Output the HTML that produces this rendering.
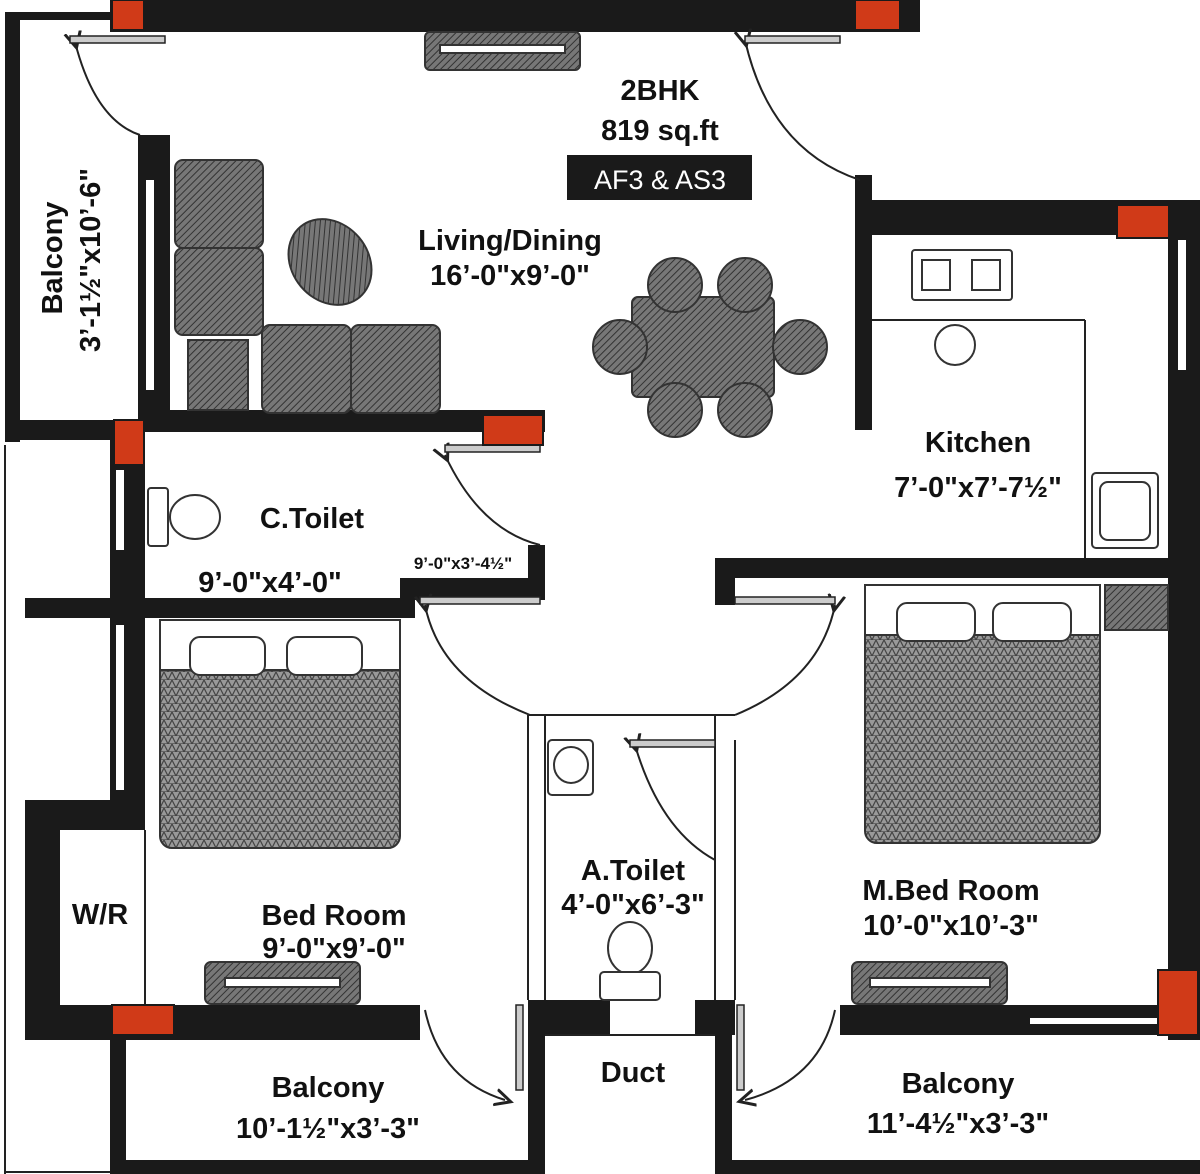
<!DOCTYPE html>
<html><head><style>
html,body{margin:0;padding:0;background:#fff;}
svg{display:block;}
text{font-family:"Liberation Sans",sans-serif;font-weight:bold;fill:#111;}
</style></head><body>
<svg width="1200" height="1174" viewBox="0 0 1200 1174" xmlns="http://www.w3.org/2000/svg">
<defs>
<pattern id="hatch" width="5" height="5" patternUnits="userSpaceOnUse" patternTransform="rotate(45)">
<rect width="5" height="5" fill="#777"/><line x1="0" y1="0" x2="0" y2="5" stroke="#333" stroke-width="2"/></pattern>
<pattern id="mesh" width="8" height="8" patternUnits="userSpaceOnUse">
<rect width="8" height="8" fill="#999"/><path d="M0 8L4 0L8 8Z" fill="none" stroke="#444" stroke-width="1.2"/></pattern>
<marker id="ar" markerWidth="10" markerHeight="10" refX="5" refY="5" orient="auto"><path d="M0 1L8 5L0 9" fill="none" stroke="#222" stroke-width="1.5"/></marker>
</defs>
<g fill="#1a1a1a">
<rect x="110" y="0" width="810" height="32"/>
<rect x="5" y="12" width="120" height="8"/>
<rect x="5" y="12" width="15" height="430"/>
<rect x="5" y="420" width="140" height="20"/>
<rect x="138" y="135" width="32" height="290"/>
<rect x="140" y="410" width="405" height="22"/>
<rect x="110" y="420" width="35" height="410"/>
<rect x="25" y="598" width="390" height="20"/>
<rect x="400" y="578" width="145" height="22"/>
<rect x="528" y="545" width="17" height="55"/>
<rect x="715" y="558" width="20" height="47"/>
<rect x="715" y="558" width="460" height="20"/>
<rect x="855" y="175" width="17" height="255"/>
<rect x="855" y="200" width="345" height="35"/>
<rect x="1168" y="200" width="32" height="840"/>
<rect x="25" y="800" width="35" height="240"/>
<rect x="25" y="800" width="120" height="30"/>
<rect x="25" y="1005" width="395" height="35"/>
<rect x="840" y="1005" width="330" height="30"/>
<rect x="528" y="1000" width="82" height="35"/>
<rect x="695" y="1000" width="40" height="35"/>
<rect x="528" y="1000" width="17" height="174"/>
<rect x="715" y="1000" width="17" height="174"/>
<rect x="110" y="1035" width="16" height="139"/>
<rect x="110" y="1160" width="420" height="14"/>
<rect x="730" y="1160" width="470" height="14"/>
</g>
<g fill="#fff">
<rect x="146" y="180" width="8" height="210"/><rect x="116" y="470" width="8" height="80"/><rect x="116" y="625" width="8" height="165"/>
<rect x="1178" y="240" width="8" height="130"/><rect x="1030" y="1018" width="130" height="6"/><rect x="612" y="1012" width="80" height="5"/><rect x="612" y="1022" width="80" height="5"/>
</g>
<g fill="none" stroke="#222" stroke-width="2">
<line x1="528" y1="715" x2="528" y2="1000"/><line x1="545" y1="715" x2="545" y2="1000"/>
<line x1="715" y1="715" x2="715" y2="1000"/><line x1="735" y1="740" x2="735" y2="1000"/>
<line x1="528" y1="715" x2="735" y2="715"/>
<line x1="545" y1="1035" x2="715" y2="1035"/>
<line x1="872" y1="320" x2="1085" y2="320"/><line x1="1085" y1="320" x2="1085" y2="558"/>
<line x1="145" y1="830" x2="145" y2="1005"/>
<line x1="5" y1="445" x2="5" y2="1174"/><line x1="5" y1="1172" x2="110" y2="1172"/>
<path d="M75 42 Q95 120 140 135" marker-start="url(#ar)"/>
<path d="M745 40 Q770 150 860 180" marker-start="url(#ar)"/>
<path d="M445 455 Q480 530 540 545" marker-start="url(#ar)"/>
<path d="M425 605 Q440 680 530 715" marker-start="url(#ar)"/>
<path d="M835 605 Q820 680 735 715" marker-start="url(#ar)"/>
<path d="M635 745 Q660 830 715 860" marker-start="url(#ar)"/>
<path d="M425 1010 Q440 1080 505 1100" marker-end="url(#ar)"/>
<path d="M835 1010 Q820 1080 745 1100" marker-end="url(#ar)"/>
</g>
<g fill="#ccc" stroke="#222" stroke-width="1.5">
<rect x="70" y="36" width="95" height="7"/><rect x="745" y="36" width="95" height="7"/>
<rect x="445" y="445" width="95" height="7"/><rect x="420" y="597" width="120" height="7"/>
<rect x="735" y="597" width="100" height="7"/><rect x="630" y="740" width="85" height="7"/>
<rect x="516" y="1005" width="7" height="85"/><rect x="737" y="1005" width="7" height="85"/>
</g>
<g fill="#d03a18" stroke="#1a1a1a" stroke-width="2">
<rect x="112" y="0" width="32" height="30"/><rect x="855" y="0" width="45" height="30"/>
<rect x="1117" y="205" width="52" height="33"/><rect x="114" y="420" width="30" height="45"/>
<rect x="483" y="415" width="60" height="30"/><rect x="112" y="1005" width="62" height="30"/>
<rect x="1158" y="970" width="40" height="65"/>
</g>
<g stroke="#333" stroke-width="2">
<rect x="425" y="32" width="155" height="38" rx="5" fill="url(#hatch)"/>
<rect x="440" y="45" width="125" height="8" fill="#fff"/>
<rect x="175" y="160" width="88" height="88" rx="8" fill="url(#hatch)"/>
<rect x="175" y="248" width="88" height="87" rx="8" fill="url(#hatch)"/>
<rect x="188" y="340" width="60" height="70" fill="url(#hatch)"/>
<rect x="262" y="325" width="89" height="88" rx="8" fill="url(#hatch)"/>
<rect x="351" y="325" width="89" height="88" rx="8" fill="url(#hatch)"/>
<ellipse cx="330" cy="262" rx="38" ry="46" transform="rotate(-40 330 262)" fill="url(#hatch)"/>
<rect x="632" y="297" width="142" height="100" rx="6" fill="url(#hatch)"/>
<circle cx="675" cy="285" r="27" fill="url(#hatch)"/><circle cx="745" cy="285" r="27" fill="url(#hatch)"/>
<circle cx="675" cy="410" r="27" fill="url(#hatch)"/><circle cx="745" cy="410" r="27" fill="url(#hatch)"/>
<circle cx="620" cy="347" r="27" fill="url(#hatch)"/><circle cx="800" cy="347" r="27" fill="url(#hatch)"/>
<rect x="160" y="620" width="240" height="228" rx="12" fill="url(#mesh)"/>
<rect x="160" y="620" width="240" height="50" fill="#fff"/>
<rect x="190" y="637" width="75" height="38" rx="10" fill="#fff"/><rect x="287" y="637" width="75" height="38" rx="10" fill="#fff"/>
<rect x="865" y="585" width="235" height="258" rx="12" fill="url(#mesh)"/>
<rect x="865" y="585" width="235" height="50" fill="#fff"/>
<rect x="897" y="603" width="78" height="38" rx="10" fill="#fff"/><rect x="993" y="603" width="78" height="38" rx="10" fill="#fff"/>
<rect x="1105" y="585" width="63" height="45" fill="url(#hatch)"/>
<rect x="205" y="962" width="155" height="42" rx="6" fill="url(#hatch)"/><rect x="225" y="978" width="115" height="9" fill="#fff"/>
<rect x="852" y="962" width="155" height="42" rx="6" fill="url(#hatch)"/><rect x="870" y="978" width="120" height="9" fill="#fff"/>
</g>
<g fill="#fff" stroke="#333" stroke-width="2">
<rect x="912" y="250" width="100" height="50" rx="3"/><rect x="922" y="260" width="28" height="30"/><rect x="972" y="260" width="28" height="30"/>
<circle cx="955" cy="345" r="20"/>
<rect x="1092" y="473" width="66" height="75" rx="4"/><rect x="1100" y="482" width="50" height="58" rx="8"/>
<rect x="148" y="488" width="20" height="58" rx="3"/><ellipse cx="195" cy="517" rx="25" ry="22"/>
<rect x="548" y="740" width="45" height="55" rx="4"/><ellipse cx="571" cy="765" rx="17" ry="18"/>
<ellipse cx="630" cy="948" rx="22" ry="26"/><rect x="600" y="972" width="60" height="28" rx="4"/>
</g>
<text x="660" y="100" font-size="29" text-anchor="middle">2BHK</text>
<text x="660" y="140" font-size="29" text-anchor="middle">819 sq.ft</text>
<rect x="567" y="155" width="185" height="45" fill="#1a1a1a"/>
<text x="660" y="189" font-size="27" text-anchor="middle" style="fill:#fff;font-weight:normal">AF3 &amp; AS3</text>
<text x="510" y="250" font-size="29" text-anchor="middle">Living/Dining</text>
<text x="510" y="285" font-size="29" text-anchor="middle">16’-0"x9’-0"</text>
<text transform="translate(62 258) rotate(-90)" font-size="29" text-anchor="middle">Balcony</text>
<text transform="translate(100 260) rotate(-90)" font-size="29" text-anchor="middle">3’-1½"x10’-6"</text>
<text x="312" y="528" font-size="29" text-anchor="middle">C.Toilet</text>
<text x="270" y="592" font-size="29" text-anchor="middle">9’-0"x4’-0"</text>
<text x="463" y="569" font-size="17" text-anchor="middle">9’-0"x3’-4½"</text>
<text x="978" y="452" font-size="29" text-anchor="middle">Kitchen</text>
<text x="978" y="497" font-size="29" text-anchor="middle">7’-0"x7’-7½"</text>
<text x="100" y="924" font-size="29" text-anchor="middle">W/R</text>
<text x="334" y="925" font-size="29" text-anchor="middle">Bed Room</text>
<text x="334" y="958" font-size="29" text-anchor="middle">9’-0"x9’-0"</text>
<text x="633" y="880" font-size="29" text-anchor="middle">A.Toilet</text>
<text x="633" y="914" font-size="29" text-anchor="middle">4’-0"x6’-3"</text>
<text x="951" y="900" font-size="29" text-anchor="middle">M.Bed Room</text>
<text x="951" y="935" font-size="29" text-anchor="middle">10’-0"x10’-3"</text>
<text x="633" y="1082" font-size="29" text-anchor="middle">Duct</text>
<text x="328" y="1097" font-size="29" text-anchor="middle">Balcony</text>
<text x="328" y="1138" font-size="29" text-anchor="middle">10’-1½"x3’-3"</text>
<text x="958" y="1093" font-size="29" text-anchor="middle">Balcony</text>
<text x="958" y="1133" font-size="29" text-anchor="middle">11’-4½"x3’-3"</text>
</svg>
</body></html>
